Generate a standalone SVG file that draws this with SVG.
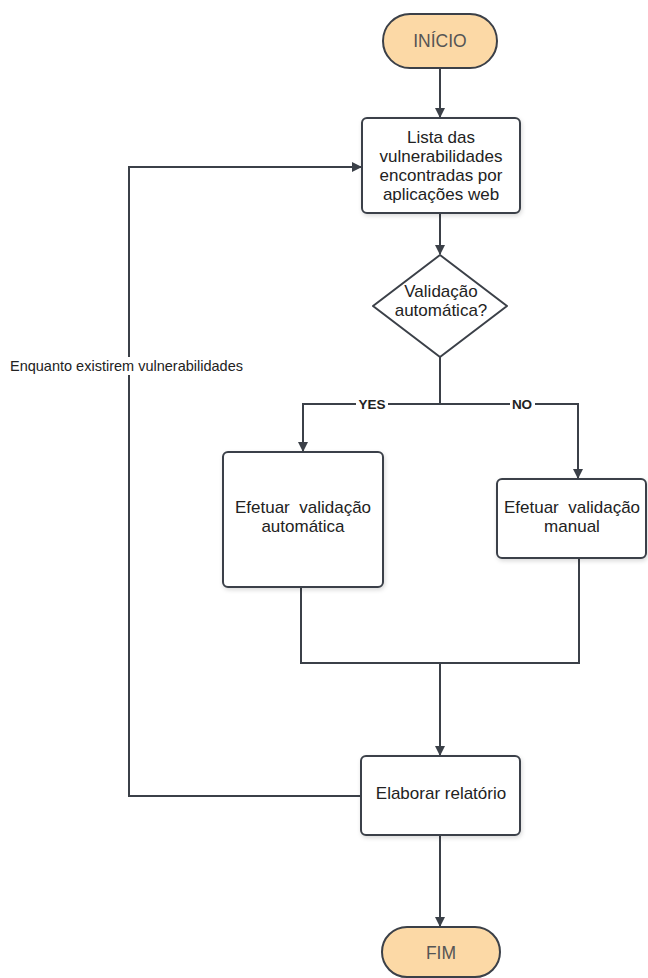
<svg xmlns="http://www.w3.org/2000/svg" width="648" height="978" viewBox="0 0 648 978">
  <style>
    .node { fill: #ffffff; stroke: #3b4048; stroke-width: 2; }
    .term { fill: #fcd9a6; stroke: #3b4048; stroke-width: 2; }
    .edge { fill: none; stroke: #3b4048; stroke-width: 2; }
    text { font-family: "Liberation Sans", Arial, sans-serif; font-size: 17px; fill: #222; text-anchor: middle; }
    .tt { fill: #555; font-size: 17.5px; }
    .lbl { font-size: 13.5px; font-weight: bold; fill: #222; }
    .side { font-size: 14.5px; fill: #222; text-anchor: start; }
    .pre { white-space: pre; }
  </style>
  <defs>
    <marker id="arrow" markerWidth="10" markerHeight="10" refX="9" refY="5" orient="auto" markerUnits="userSpaceOnUse">
      <path d="M0,0 L10,5 L0,10 Z" fill="#3b4048"/>
    </marker>
    <filter id="shadow" x="-10%" y="-10%" width="130%" height="130%">
      <feDropShadow dx="1" dy="2" stdDeviation="2" flood-color="#000" flood-opacity="0.15"/>
    </filter>
  </defs>

  <rect width="648" height="978" fill="#ffffff"/>

  <!-- connectors -->
  <g id="connectors">
    <path class="edge" d="M440,68 L440,117" marker-end="url(#arrow)"/>
    <path class="edge" d="M440,213 L440,254" marker-end="url(#arrow)"/>
    <path class="edge" d="M440,357 L440,404"/>
    <path class="edge" d="M440,404 L303,404 L303,451" marker-end="url(#arrow)"/>
    <path class="edge" d="M440,404 L578,404 L578,478" marker-end="url(#arrow)"/>
    <path class="edge" d="M301,587 L301,663 L579,663 L579,558"/>
    <path class="edge" d="M440,663 L440,755" marker-end="url(#arrow)"/>
    <path class="edge" d="M440,835 L440,926" marker-end="url(#arrow)"/>
    <path class="edge" d="M361,796 L129,796 L129,167 L361,167" marker-end="url(#arrow)"/>
    <!-- branch labels -->
    <rect x="356" y="396" width="32" height="16" fill="#ffffff"/>
    <text class="lbl" x="372" y="409">YES</text>
    <rect x="510" y="396" width="25" height="16" fill="#ffffff"/>
    <text class="lbl" x="522" y="409">NO</text>
    <rect x="8" y="357" width="242" height="18" fill="#ffffff"/>
    <text class="side" x="10" y="371">Enquanto existirem vulnerabilidades</text>
  </g>

  <g id="inicio">
    <rect class="term" x="383" y="14" width="114" height="54" rx="27" ry="27"/>
    <text class="tt" x="440" y="47">INÍCIO</text>
  </g>

  <g id="lista">
    <rect class="node" x="362" y="118" width="158" height="95" rx="5" filter="url(#shadow)"/>
    <text x="441" y="143">Lista das</text>
    <text x="441" y="162">vulnerabilidades</text>
    <text x="441" y="181">encontradas por</text>
    <text x="441" y="200">aplicações web</text>
  </g>

  <g id="decisao">
    <path class="node" d="M440,255 L507,306 L440,357 L373,306 Z" stroke-linejoin="round"/>
    <text x="441" y="297">Validação</text>
    <text x="441" y="316">automática?</text>
  </g>

  <g id="auto">
    <rect class="node" x="223" y="452" width="160" height="135" rx="5" filter="url(#shadow)"/>
    <text class="pre" x="303" y="513">Efetuar  validação</text>
    <text x="303" y="532">automática</text>
  </g>

  <g id="manual">
    <rect class="node" x="497" y="479" width="149" height="79" rx="5" filter="url(#shadow)"/>
    <text class="pre" x="572" y="513">Efetuar  validação</text>
    <text x="572" y="532">manual</text>
  </g>

  <g id="relatorio">
    <rect class="node" x="361" y="756" width="159" height="79" rx="5" filter="url(#shadow)"/>
    <text x="441" y="799">Elaborar relatório</text>
  </g>

  <g id="fim">
    <rect class="term" x="382" y="927" width="118" height="50" rx="25" ry="25"/>
    <text class="tt" x="441" y="959">FIM</text>
  </g>
</svg>
